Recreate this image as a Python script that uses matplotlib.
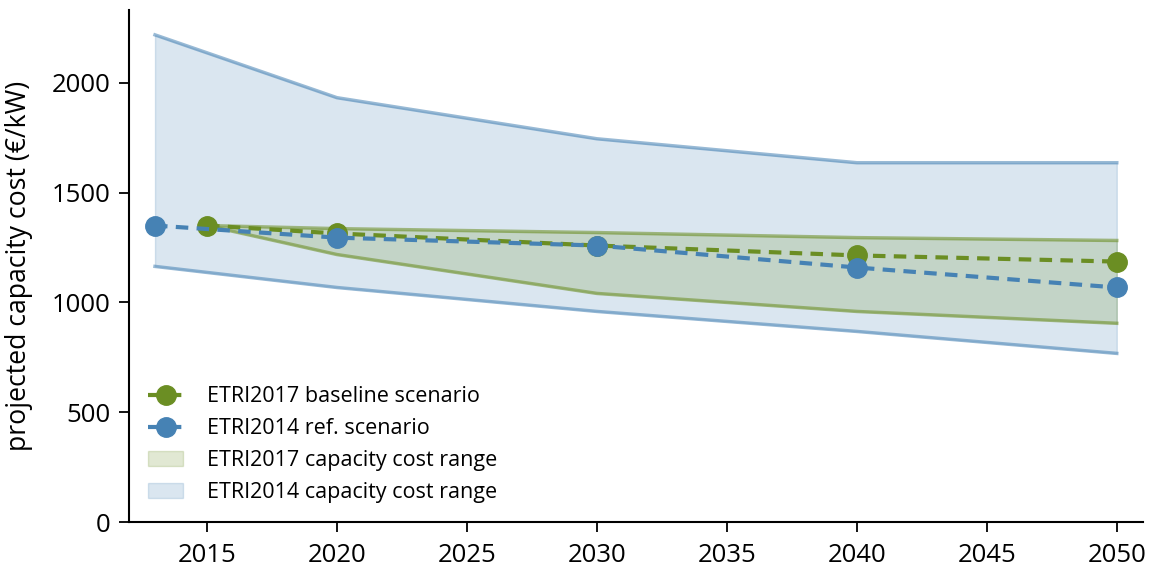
import matplotlib
matplotlib.use('Agg')
import matplotlib.pyplot as plt

plt.rcParams['font.family'] = ['Open Sans', 'DejaVu Sans']

green = '#6b8e23'
blue = '#4682b4'

# ETRI2017 baseline scenario
years_2017 = [2015, 2020, 2030, 2040, 2050]
cost_2017 = [1350, 1314, 1259, 1214, 1186]
low_2017 = [1350, 1218, 1041, 959, 905]
high_2017 = [1350, 1336, 1318, 1295, 1282]

# ETRI2014 reference scenario
years_2014 = [2013, 2020, 2030, 2040, 2050]
cost_2014 = [1350, 1295, 1259, 1159, 1068]
low_2014 = [1164, 1068, 959, 868, 768]
high_2014 = [2218, 1932, 1745, 1636, 1636]

fig = plt.figure(figsize=(11.52, 5.7), dpi=100)
ax = fig.add_axes([0.112, 0.084, 0.88, 0.898])

# cost ranges: light fill with stronger upper/lower bounds
ax.fill_between(years_2014, low_2014, high_2014, color=blue, alpha=0.2,
                label='ETRI2014 capacity cost range')
ax.plot(years_2014, low_2014, color=blue, alpha=0.55, lw=2.5)
ax.plot(years_2014, high_2014, color=blue, alpha=0.55, lw=2.5)

ax.fill_between(years_2017, low_2017, high_2017, color=green, alpha=0.2,
                label='ETRI2017 capacity cost range')
ax.plot(years_2017, low_2017, color=green, alpha=0.55, lw=2.5)
ax.plot(years_2017, high_2017, color=green, alpha=0.55, lw=2.5)

ax.plot(years_2017, cost_2017, 'o', ls=(0, (3, 2)), color=green, lw=3, ms=14,
        label='ETRI2017 baseline scenario')
ax.plot(years_2014, cost_2014, 'o', ls=(0, (3, 2)), color=blue, lw=3, ms=14,
        label='ETRI2014 ref. scenario')

ax.set_xlim(2012, 2051)
ax.set_ylim(0, 2330)
ax.set_xticks(range(2015, 2051, 5))
ax.set_yticks(range(0, 2001, 500))
ax.tick_params(labelsize=18.5, length=7, width=1.3, pad=8)
ax.tick_params(axis='y', pad=6)
ax.set_ylabel('projected capacity cost (€/kW)', fontsize=19.2, labelpad=14)
for side in ['top', 'right']:
    ax.spines[side].set_visible(False)
for side in ['left', 'bottom']:
    ax.spines[side].set_linewidth(1.5)

handles, labels = ax.get_legend_handles_labels()
order = [2, 3, 1, 0]
ax.legend([handles[i] for i in order], [labels[i] for i in order],
          loc='lower left', frameon=False, fontsize=15.5, handlelength=1.6,
          handletextpad=1.1, bbox_to_anchor=(0.0, 0.0))

fig.savefig('out.png', dpi=100)
